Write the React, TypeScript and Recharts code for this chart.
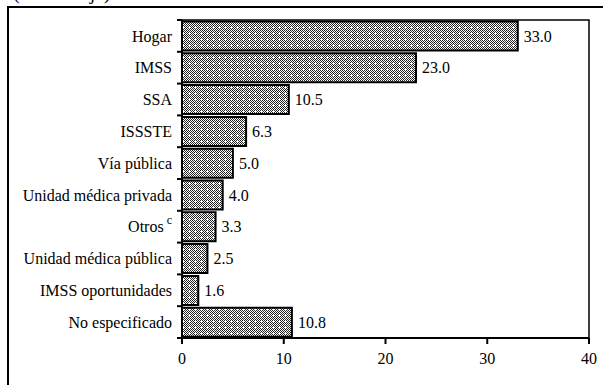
import {
  BarChart,
  Bar,
  XAxis,
  YAxis,
  LabelList,
  ReferenceArea,
} from "recharts";

const categories = [
  "Hogar",
  "IMSS",
  "SSA",
  "ISSSTE",
  "Vía pública",
  "Unidad médica privada",
  "Otros",
  "Unidad médica pública",
  "IMSS oportunidades",
  "No especificado",
];
const values = [33.0, 23.0, 10.5, 6.3, 5.0, 4.0, 3.3, 2.5, 1.6, 10.8];
const xTicks = [0, 10, 20, 30, 40];

const data = categories.map((name, i) => ({ name, value: values[i] }));

const FONT = "Liberation Serif, Times New Roman, serif";
const textStyle = { fontFamily: FONT, fontSize: 16, fill: "#000" };

// checker cells for the hatch tile (white "+" every 6px)
const tile: { x: number; y: number }[] = [];
for (let i = 0; i < 6; i++) {
  for (let j = 0; j < 6; j++) {
    if ((i + j) % 2 === 0 && !(i === 3 && j === 3)) {
      tile.push({ x: i, y: j });
    }
  }
}

function CategoryTick(props: any) {
  const { x, y, payload, index, visibleTicksCount } = props;
  const half = payload?.offset ?? 0;
  const lx = x + 5;
  const isOtros = payload.value === "Otros";
  return (
    <g>
      <line x1={lx} x2={lx + 5} y1={y - half} y2={y - half} stroke="#000" strokeWidth={2} />
      {index === visibleTicksCount - 1 && (
        <line x1={lx} x2={lx + 5} y1={y + half} y2={y + half} stroke="#000" strokeWidth={2} />
      )}
      <text x={x} y={y} dy="0.35em" textAnchor="end" style={textStyle}>
        {payload.value}
        {isOtros && (
          <tspan dx={3} dy={-8} style={{ fontSize: 12 }}>
            c
          </tspan>
        )}
      </text>
    </g>
  );
}

function XTick(props: any) {
  const { x, y, payload } = props;
  return (
    <text x={x} y={y} dy="0.75em" textAnchor="middle" style={textStyle}>
      {payload.value}
    </text>
  );
}

export default function App() {
  return (
    <div
      style={{
        position: "fixed",
        inset: 0,
        overflow: "hidden",
        background: "#fff",
        fontFamily: FONT,
      }}
    >
      <div
        style={{
          position: "absolute",
          left: 13,
          top: -18,
          fontSize: 20,
          lineHeight: "20px",
          whiteSpace: "nowrap",
        }}
      >
        (Porcentaje)
      </div>
      <div
        style={{
          position: "absolute",
          left: 7,
          top: 6,
          width: 800,
          height: 600,
          border: "2px solid #000",
        }}
      />
      <div style={{ position: "absolute", left: 0, top: 0 }}>
        <BarChart
          width={603}
          height={385}
          data={data}
          layout="vertical"
          margin={{ top: 20, right: 14, bottom: 17, left: 0 }}
          barCategoryGap={1.5}
        >
          <defs>
            <pattern id="hatch" width={6} height={6} patternUnits="userSpaceOnUse">
              <rect width={6} height={6} fill="#fff" />
              {tile.map((c) => (
                <rect key={`${c.x}-${c.y}`} x={c.x} y={c.y} width={1} height={1} fill="#222" />
              ))}
            </pattern>
          </defs>
          <ReferenceArea x1={0} x2={40} fill="none" stroke="#000" strokeWidth={1.5} />
          <XAxis
            type="number"
            domain={[0, 40]}
            ticks={xTicks}
            height={30}
            axisLine={{ stroke: "#000", strokeWidth: 2 }}
            tickLine={{ stroke: "#000", strokeWidth: 2 }}
            tickSize={6}
            tickMargin={8}
            tick={<XTick />}
          />
          <YAxis
            type="category"
            dataKey="name"
            width={182}
            axisLine={{ stroke: "#000", strokeWidth: 2 }}
            tickLine={false}
            tickSize={5}
            tickMargin={5}
            interval={0}
            tick={<CategoryTick />}
          />
          <Bar
            dataKey="value"
            fill="url(#hatch)"
            stroke="#000"
            strokeWidth={2}
            isAnimationActive={false}
          >
            <LabelList
              dataKey="value"
              position="right"
              offset={6}
              formatter={(v: any) => Number(v).toFixed(1)}
              fill="#000"
              style={textStyle}
            />
          </Bar>
        </BarChart>
      </div>
    </div>
  );
}
